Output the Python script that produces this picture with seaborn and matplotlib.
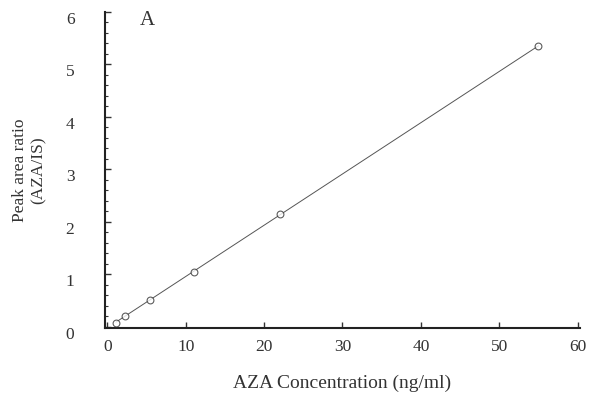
import matplotlib
matplotlib.use("Agg")
import matplotlib.pyplot as plt
import seaborn as sns
import pandas as pd
from matplotlib.ticker import MultipleLocator

conc = [1.1, 2.2, 5.5, 11.0, 22.0, 55.0]
ratio = [0.08, 0.21, 0.52, 1.05, 2.15, 5.35]
xticks = [0, 10, 20, 30, 40, 50, 60]
yticks = [0, 1, 2, 3, 4, 5, 6]

sns.set_theme(style="ticks")
plt.rcParams['font.family'] = ['Liberation Serif', 'DejaVu Serif']

df = pd.DataFrame({"conc": conc, "ratio": ratio})

fig = plt.figure(figsize=(5.9, 3.99), dpi=100)
ax = fig.add_axes([0.178, 0.178, 0.805, 0.792])

sns.regplot(data=df, x="conc", y="ratio", ci=None, ax=ax, truncate=True,
            scatter_kws=dict(s=24, facecolors="white", edgecolors="#333333", linewidths=0.8, zorder=3),
            line_kws=dict(color="#555555", lw=0.7))

ax.set_xlim(-0.3, 60.3)
ax.set_ylim(-0.02, 6.0)
ax.set_xticks(xticks)
ax.set_yticks(yticks)
ax.yaxis.set_minor_locator(MultipleLocator(0.2))
ax.tick_params(axis="both", direction="in", length=4, width=1, colors="#333333", labelcolor="#333333", labelsize=12.5)
ax.tick_params(axis="y", which="minor", direction="in", length=2.5, width=0.8, colors="#333333")
ax.tick_params(axis="x", pad=8)
ax.tick_params(axis="y", pad=22)
for lbl in ax.get_yticklabels():
    lbl.set_verticalalignment("top")
sns.despine(ax=ax)
for s in ["left", "bottom"]:
    ax.spines[s].set_color("#222222")
    ax.spines[s].set_linewidth(1.5)

ax.set_xlabel("AZA Concentration (ng/ml)", fontsize=14, color="#333333", labelpad=14)
ax.set_ylabel("Peak area ratio\n(AZA/IS)", fontsize=12.5, color="#333333", labelpad=14)
ax.text(4.2, 5.75, "A", fontsize=15, color="#333333")

fig.savefig("out.png", dpi=100)
